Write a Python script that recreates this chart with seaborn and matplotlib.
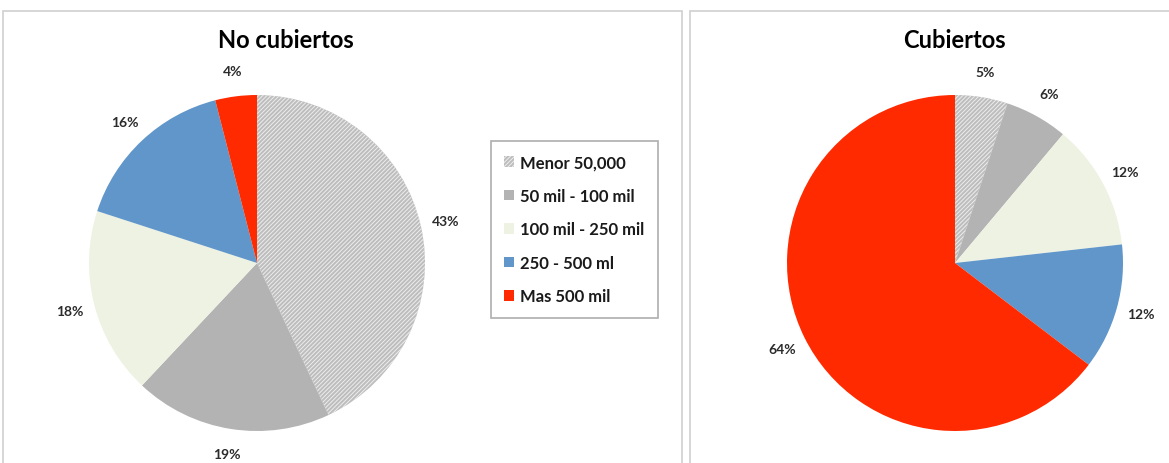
import numpy as np
import pandas as pd
import matplotlib.pyplot as plt
from matplotlib.patches import Rectangle, Patch
import seaborn as sns

sns.set_theme(style="white")
plt.rcParams['font.family'] = ['Lato', 'DejaVu Sans']
plt.rcParams['hatch.linewidth'] = 0.7

# Data
categorias = ["Menor 50,000", "50 mil - 100 mil", "100 mil - 250 mil", "250 - 500 ml", "Mas 500 mil"]
no_cubiertos = [43, 19, 18, 16, 4]
cubiertos = [5, 6, 12, 12, 64]
titulos = ["No cubiertos", "Cubiertos"]

colores = ["#BDBDBD", "#B3B3B3", "#EEF2E2", "#6196CA", "#FF2A00"]

W, H = 1169, 464
fig = plt.figure(figsize=(W / 100, H / 100), dpi=100)

# panel borders
for x0, x1 in [(3, 682), (690, 1175)]:
    fig.add_artist(Rectangle((x0 / W, -0.05), (x1 - x0) / W, (H - 12) / H + 0.05,
                             transform=fig.transFigure, fill=False,
                             edgecolor="#CFCFCF", linewidth=1.2))


def draw_pie(cx, cy, r, values, title, tx):
    ax = fig.add_axes([(cx - r) / W, (H - cy - r) / H, 2 * r / W, 2 * r / H])
    wedges, texts = ax.pie(values, colors=colores, startangle=90, counterclock=False,
                           labels=[f"{v}%" for v in values], labeldistance=1.15,
                           wedgeprops=dict(linewidth=0),
                           textprops=dict(fontsize=10, fontweight="bold", color="#2B2B2B"))
    for t in texts:
        t.set_horizontalalignment("center")
        t.set_verticalalignment("center")
    wedges[0].set_hatch("////////")
    wedges[0].set_edgecolor("#EDEDED")
    wedges[0].set_linewidth(0)
    ax.set_xlim(-1, 1)
    ax.set_ylim(-1, 1)
    ax.set_aspect("auto")
    fig.text(tx / W, 1 - 40 / H, title, ha="center", va="center",
             fontsize=17, fontweight="bold", color="black")
    return ax


draw_pie(257, 264, 168, no_cubiertos, titulos[0], 286)
draw_pie(955, 264, 168, cubiertos, titulos[1], 954)

handles = [Patch(facecolor=c, edgecolor="none") for c in colores]
handles[0].set_hatch("////////")
handles[0].set_edgecolor("#EDEDED")
handles[0].set_linewidth(0)
leg = fig.legend(handles, categorias, loc="upper left",
                 bbox_to_anchor=(491 / W, 1 - 142 / H), bbox_transform=fig.transFigure,
                 frameon=True, fancybox=False, handlelength=0.6, handleheight=0.6,
                 handletextpad=0.35, labelspacing=1.05, borderpad=0.8, borderaxespad=0,
                 prop=dict(size=12, weight="bold"))
leg.get_frame().set_edgecolor("#9A9A9A")
leg.get_frame().set_linewidth(1.2)
for t in leg.get_texts():
    t.set_color("#1A1A1A")

plt.savefig("out.png", dpi=100)
